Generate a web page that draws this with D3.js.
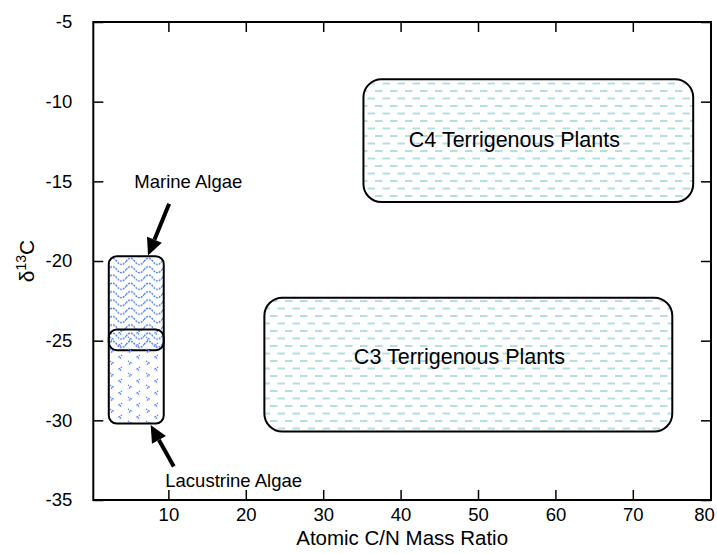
<!DOCTYPE html>
<html><head><meta charset="utf-8">
<script src="https://cdn.jsdelivr.net/npm/d3@7"></script>
<style>body{margin:0;background:#fff} text{font-family:"Liberation Sans",Arial,Helvetica,sans-serif;fill:#000}</style>
</head><body><svg id="c" width="717" height="554"></svg>
<script>
// ---- data ----
const xTicks = [10, 20, 30, 40, 50, 60, 70, 80];
const yTicks = [-35, -30, -25, -20, -15, -10, -5];
const xDomain = [0.3, 80.1];
const yDomain = [-35, -5];
const xTitle = "Atomic C/N Mass Ratio";

const regionNames = ["C4 Terrigenous Plants", "C3 Terrigenous Plants", "Marine Algae", "Lacustrine Algae"];
const regionCNMin = [35.2, 22.4, 2.3, 2.3];
const regionCNMax = [77.8, 75.1, 9.4, 9.4];
const regionD13CMax = [-8.6, -22.3, -19.7, -24.3];
const regionD13CMin = [-16.3, -30.7, -25.6, -30.2];
const regionPattern = ["dash", "dash", "wave", "chevron"];

const innerLabelNames = ["C4 Terrigenous Plants", "C3 Terrigenous Plants"];
const innerLabelCN = [54.7, 47.6];
const innerLabelD13C = [-12.4, -26.0];

const calloutNames = ["Marine Algae", "Lacustrine Algae"];
const calloutTextCN = [5.6, 9.6];
const calloutTextD13C = [-15.4, -34.2];
const calloutTailCN = [10.1, 10.7];
const calloutTailD13C = [-16.4, -32.9];
const calloutTipCN = [7.37, 7.71];
const calloutTipD13C = [-19.66, -30.3];

// ---- drawing ----
const svg = d3.select("#c");
const L = 93.3, R = 711, T = 22, B = 500;
const x = d3.scaleLinear().domain(xDomain).range([L, R]);
const y = d3.scaleLinear().domain(yDomain).range([B, T]);

const defs = svg.append("defs");
// dashed fill for terrestrial plants
const pd = defs.append("pattern").attr("id", "dash").attr("patternUnits", "userSpaceOnUse")
  .attr("width", 15).attr("height", 15);
pd.append("rect").attr("x", 0).attr("y", 0).attr("width", 7.5).attr("height", 2).attr("fill", "#b3dfe3");
pd.append("rect").attr("x", 7.5).attr("y", 7.5).attr("width", 7.5).attr("height", 2).attr("fill", "#b3dfe3");
// wavy fill for marine algae
const pw = defs.append("pattern").attr("id", "wave").attr("patternUnits", "userSpaceOnUse")
  .attr("width", 18).attr("height", 8.3);
pw.append("path").attr("d", "M0,4.2 Q4.5,-1.8 9,4.2 T18,4.2").attr("fill", "none")
  .attr("stroke", "#4f7ff0").attr("stroke-width", 1.4).attr("stroke-dasharray", "2 1");
// chevron fill for lacustrine algae
const pc = defs.append("pattern").attr("id", "chevron").attr("patternUnits", "userSpaceOnUse")
  .attr("width", 18).attr("height", 12);
pc.append("path").attr("d", "M2,1 L5,3 L2,5 M14,7 L11,9 L14,11").attr("fill", "none")
  .attr("stroke", "#5a86f0").attr("stroke-width", 1.4).attr("stroke-dasharray", "1.4 0.9");

// regions
const idx = d3.range(regionNames.length);
svg.append("g").selectAll("rect").data(idx).join("rect")
  .attr("x", i => x(regionCNMin[i]))
  .attr("y", i => y(regionD13CMax[i]))
  .attr("width", i => x(regionCNMax[i]) - x(regionCNMin[i]))
  .attr("height", i => y(regionD13CMin[i]) - y(regionD13CMax[i]))
  .attr("rx", i => regionPattern[i] === "dash" ? 18 : 8)
  .attr("fill", i => `url(#${regionPattern[i]})`)
  .attr("stroke", "#000").attr("stroke-width", 2);

// inner labels
svg.append("g").selectAll("text").data(innerLabelNames).join("text")
  .attr("x", (d, i) => x(innerLabelCN[i]))
  .attr("y", (d, i) => y(innerLabelD13C[i]))
  .attr("dy", "0.35em").attr("text-anchor", "middle")
  .attr("font-size", 21.5).text(d => d);

// axes
const gB = svg.append("g").attr("transform", `translate(0,${B})`)
  .call(d3.axisBottom(x).tickValues(xTicks).tickSizeInner(-10).tickSizeOuter(0).tickPadding(8).tickFormat(d => String(d)));
const gT = svg.append("g").attr("transform", `translate(0,${T})`)
  .call(d3.axisTop(x).tickValues(xTicks).tickSizeInner(-10).tickSizeOuter(0).tickFormat(""));
const gL = svg.append("g").attr("transform", `translate(${L},0)`)
  .call(d3.axisLeft(y).tickValues(yTicks).tickSizeInner(-10).tickSizeOuter(0).tickPadding(21).tickFormat(d => String(d)));
const gR = svg.append("g").attr("transform", `translate(${R},0)`)
  .call(d3.axisRight(y).tickValues(yTicks).tickSizeInner(-10).tickSizeOuter(0).tickFormat(""));
[gB, gT, gL, gR].forEach(g => {
  g.select(".domain").remove();
  g.selectAll(".tick line").attr("stroke", "#000").attr("stroke-width", 1.5);
  g.selectAll(".tick text").attr("font-size", 18.5).attr("font-family", "'Liberation Sans',Arial,sans-serif").attr("fill", "#000");
});
// keep the last x label inside the picture, as in the reference
gB.selectAll(".tick text").filter(d => d === xTicks[xTicks.length - 1])
  .attr("text-anchor", "end").attr("x", 4);

// frame
svg.append("rect").attr("x", L).attr("y", T).attr("width", R - L).attr("height", B - T)
  .attr("fill", "none").attr("stroke", "#000").attr("stroke-width", 2);

// axis titles
svg.append("text").attr("x", (L + R) / 2).attr("y", 545).attr("text-anchor", "middle")
  .attr("font-size", 20.5).text(xTitle);
const yt = svg.append("text").attr("transform", `translate(34,${(T + B) / 2}) rotate(-90)`)
  .attr("text-anchor", "middle").attr("font-size", 21);
yt.append("tspan").text("δ");
yt.append("tspan").attr("font-size", 14).attr("dy", -8).text("13");
yt.append("tspan").attr("dy", 8).text("C");

// callouts
const ci = d3.range(calloutNames.length);
svg.append("g").selectAll("text").data(ci).join("text")
  .attr("x", i => x(calloutTextCN[i])).attr("y", i => y(calloutTextD13C[i]))
  .attr("font-size", 18.5).text(i => calloutNames[i]);
const ag = svg.append("g");
ci.forEach(i => {
  const x0 = x(calloutTailCN[i]), y0 = y(calloutTailD13C[i]);
  const x1 = x(calloutTipCN[i]), y1 = y(calloutTipD13C[i]);
  const a = Math.atan2(y1 - y0, x1 - x0);
  const hl = 17, hw = 8;
  const bx = x1 - hl * Math.cos(a), by = y1 - hl * Math.sin(a);
  ag.append("line").attr("x1", x0).attr("y1", y0).attr("x2", bx).attr("y2", by)
    .attr("stroke", "#000").attr("stroke-width", 4);
  const px = -Math.sin(a) * hw, py = Math.cos(a) * hw;
  ag.append("path").attr("d", `M${x1},${y1}L${bx + px},${by + py}L${bx - px},${by - py}Z`).attr("fill", "#000");
});
</script></body></html>
